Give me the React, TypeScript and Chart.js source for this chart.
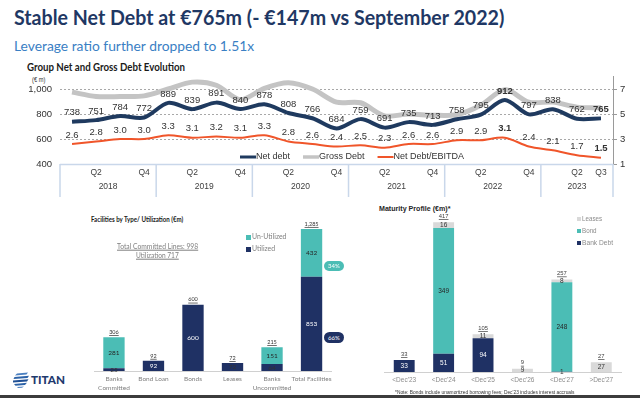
import React, { useEffect, useLayoutEffect, useRef } from "react";
import { Chart, registerables } from "chart.js";
Chart.register(...registerables);

// ---------- DATA ----------
const quarterTicks = ["", "Q2", "", "Q4", "", "Q2", "", "Q4", "", "Q2", "", "Q4", "", "Q2", "", "Q4", "", "Q2", "", "Q4", "", "Q2", "Q3"];
const quarterYears = ["2018", "2018", "2018", "2018", "2019", "2019", "2019", "2019", "2020", "2020", "2020", "2020", "2021", "2021", "2021", "2021", "2022", "2022", "2022", "2022", "2023", "2023", "2023"];
const years = ["2018", "2019", "2020", "2021", "2022", "2023"];
const netDebt = [738, 751, 784, 772, 889, 839, 891, 840, 878, 808, 766, 684, 759, 691, 735, 713, 758, 795, 912, 797, 838, 762, 765];
const grossDebt = [975, 940, 940, 945, 1000, 1055, 1030, 915, 1005, 1050, 1000, 895, 890, 785, 800, 790, 795, 870, 995, 895, 895, 855, 850];
const leverage = [2.6, 2.8, 3.0, 3.0, 3.3, 3.1, 3.2, 3.1, 3.3, 2.8, 2.6, 2.4, 2.5, 2.3, 2.6, 2.6, 2.9, 2.9, 3.1, 2.4, 2.1, 1.7, 1.5];
const boldIdx = [18, 22];
const leftTicks = [400, 600, 800, 1000];
const rightTicks = [1, 3, 5, 7];

const facilityCategories = [["Banks", "Committed"], ["Bond Loan"], ["Bonds"], ["Leases"], ["Banks", "Uncommitted"], ["Total Facilities"]];
const utilized = [25, 92, 600, 72, 64, 853];
const unUtilized = [281, 0, 0, 0, 151, 432];
const facilityTotals = ["306", "92", "600", "72", "215", "1,285"];

const maturityCategories = ["<Dec'23", "<Dec'24", "<Dec'25", "<Dec'26", "<Dec'27", ">Dec'27"];
const bankDebt = [33, 51, 94, 0, 1, 0];
const bond = [0, 349, 0, 0, 248, 0];
const leases = [0, 16, 11, 9, 8, 27];
const maturityTotals = ["33", "417", "105", "9", "257", "27"];

// ---------- STYLE ----------
const NAVY_LINE = "#1f3a5f";
const GRAY_LINE = "#c4c4c4";
const ORANGE = "#f0552a";
const NAVY = "#1f3164";
const TEAL = "#4bbdb5";
const LEASE = "#d9d9d9";
const ARIAL = "Liberation Sans";

function FitText(props: { x: number; y: number; w: number; children: any; style?: any }) {
  const ref = useRef<HTMLSpanElement>(null);
  useLayoutEffect(() => {
    const el = ref.current;
    if (!el) return;
    el.style.transform = "translateY(-50%)";
    const ow = el.offsetWidth || 1;
    el.style.transform = `translateY(-50%) scaleX(${props.w / ow})`;
  }, [props.w]);
  return (
    <span
      ref={ref}
      style={{
        position: "absolute",
        left: props.x,
        top: props.y,
        whiteSpace: "nowrap",
        transformOrigin: "left center",
        lineHeight: 1.15,
        ...props.style,
      }}
    >
      {props.children}
    </span>
  );
}

function stackLabels(cfg: { colors: string[]; totals: string[]; font: string; totalFont: string; totalGap: number; totalColor: string }) {
  return {
    id: "stackLabels",
    afterDatasetsDraw(chart: any) {
      const ctx = chart.ctx;
      ctx.save();
      ctx.textAlign = "center";
      ctx.textBaseline = "middle";
      chart.data.datasets.forEach((ds: any, di: number) => {
        const meta = chart.getDatasetMeta(di);
        meta.data.forEach((el: any, i: number) => {
          const v = ds.data[i];
          if (!v) return;
          const p = el.getProps(["x", "y", "base"], true);
          const h = Math.abs(p.base - p.y);
          ctx.font = cfg.font;
          ctx.fillStyle = h < 8 ? "#333333" : cfg.colors[di];
          ctx.fillText(String(v), p.x, (p.y + p.base) / 2);
        });
      });
      const yScale = chart.scales.y;
      const n = chart.data.labels.length;
      for (let i = 0; i < n; i++) {
        let sum = 0;
        chart.data.datasets.forEach((ds: any) => (sum += ds.data[i]));
        const x = chart.getDatasetMeta(0).data[i].x;
        const y = yScale.getPixelForValue(sum) - cfg.totalGap;
        ctx.font = cfg.totalFont;
        ctx.fillStyle = cfg.totalColor;
        ctx.fillText(cfg.totals[i], x, y);
        const w = ctx.measureText(cfg.totals[i]).width;
        ctx.fillRect(x - w / 2, y + 3, w, 0.7);
      }
      ctx.restore();
    },
  };
}

const topPlugin = {
  id: "topDecor",
  afterDatasetsDraw(chart: any) {
    const ctx = chart.ctx;
    const xs = chart.scales.x;
    const area = chart.chartArea;
    ctx.save();
    ctx.textAlign = "center";
    ctx.textBaseline = "middle";
    const netMeta = chart.getDatasetMeta(0);
    const levMeta = chart.getDatasetMeta(1);
    netMeta.data.forEach((pt: any, i: number) => {
      ctx.font = (boldIdx.includes(i) ? "bold " : "") + `9.5px "${ARIAL}"`;
      ctx.fillStyle = "#333333";
      ctx.fillText(String(netDebt[i]), pt.x, pt.y - 9);
    });
    levMeta.data.forEach((pt: any, i: number) => {
      ctx.font = (boldIdx.includes(i) ? "bold " : "") + `9.5px "${ARIAL}"`;
      ctx.fillStyle = "#333333";
      ctx.fillText(leverage[i].toFixed(1), pt.x, pt.y - 9);
    });
    const b = area.bottom;
    ctx.strokeStyle = "#c9d7ea";
    ctx.lineWidth = 1.5;
    ctx.beginPath();
    ctx.moveTo(area.left, b + 0.5);
    ctx.lineTo(area.right, b + 0.5);
    ctx.stroke();
    const n = quarterTicks.length;
    const bounds: number[] = [];
    for (let i = 0; i < n; i++) {
      if (i === 0) bounds.push(area.left);
      else if (quarterYears[i] !== quarterYears[i - 1]) bounds.push((xs.getPixelForValue(i - 1) + xs.getPixelForValue(i)) / 2);
    }
    bounds.push(area.right);
    bounds.forEach((bx) => {
      ctx.beginPath();
      ctx.moveTo(bx, b);
      ctx.lineTo(bx, b + 33);
      ctx.stroke();
    });
    ctx.fillStyle = "#404040";
    ctx.font = `8.5px "${ARIAL}"`;
    for (let i = 0; i < n; i++) {
      if (quarterTicks[i]) ctx.fillText(quarterTicks[i], xs.getPixelForValue(i), b + 9);
    }
    years.forEach((yr) => {
      const first = quarterYears.indexOf(yr);
      const last = quarterYears.lastIndexOf(yr);
      const cx = (xs.getPixelForValue(first) + xs.getPixelForValue(last)) / 2;
      ctx.fillText(yr, cx, b + 23);
    });
    const ly = b - 7;
    const items = [
      { t: "Net debt", c: NAVY_LINE, w: 3 },
      { t: "Gross Debt", c: GRAY_LINE, w: 3.5 },
      { t: "Net Debt/EBITDA", c: ORANGE, w: 2 },
    ];
    let lx = 240;
    ctx.font = `9px "${ARIAL}"`;
    ctx.textAlign = "left";
    items.forEach((it) => {
      ctx.strokeStyle = it.c;
      ctx.lineWidth = it.w;
      ctx.beginPath();
      ctx.moveTo(lx, ly);
      ctx.lineTo(lx + 16, ly);
      ctx.stroke();
      ctx.fillStyle = "#333333";
      ctx.fillText(it.t, lx + 16, ly);
      lx += 16 + ctx.measureText(it.t).width + 13;
    });
    ctx.restore();
  },
};

export default function App() {
  const topRef = useRef<HTMLCanvasElement>(null);
  const facRef = useRef<HTMLCanvasElement>(null);
  const matRef = useRef<HTMLCanvasElement>(null);

  useEffect(() => {
    const top = new Chart(topRef.current as HTMLCanvasElement, {
      type: "line",
      data: {
        labels: quarterTicks,
        datasets: [
          { label: "Net debt", data: netDebt, yAxisID: "y", borderColor: NAVY_LINE, borderWidth: 4, tension: 0.3, pointRadius: 0 },
          { label: "Net Debt/EBITDA", data: leverage, yAxisID: "y1", borderColor: ORANGE, borderWidth: 2, tension: 0.3, pointRadius: 0 },
          { label: "Gross Debt", data: grossDebt, yAxisID: "y", borderColor: GRAY_LINE, borderWidth: 5, tension: 0.3, pointRadius: 0 },
        ],
      },
      options: {
        responsive: false,
        animation: false,
        layout: { padding: { top: 16.5, bottom: 36, left: 0, right: 0 } },
        plugins: { legend: { display: false }, tooltip: { enabled: false } },
        scales: {
          x: { type: "category", display: false, offset: true },
          y: {
            position: "left",
            min: 400,
            max: 1100,
            afterFit: (s: any) => { s.width = 60; },
            afterBuildTicks: (s: any) => { s.ticks = leftTicks.map((v) => ({ value: v })); },
            ticks: { padding: 8, color: "#333333", font: { family: ARIAL, size: 9.5 } },
            grid: {
              drawTicks: false,
              lineWidth: 1,
              color: (c: any) => (c.tick && leftTicks.slice(1).includes(c.tick.value) ? "#a8a8a8" : "rgba(0,0,0,0)"),
            },
            border: { display: false, dash: [2, 2] },
          } as any,
          y1: {
            position: "right",
            min: 1,
            max: 8,
            afterFit: (s: any) => { s.width = 27; },
            afterBuildTicks: (s: any) => { s.ticks = rightTicks.map((v) => ({ value: v })); },
            ticks: { padding: 3, color: "#333333", font: { family: ARIAL, size: 9.5 } },
            grid: { drawOnChartArea: false, drawTicks: true, tickLength: 4, color: "#9a9a9a" },
            border: { display: true, color: "#9a9a9a", width: 1 },
          } as any,
        },
      },
      plugins: [topPlugin],
    } as any);

    const fac = new Chart(facRef.current as HTMLCanvasElement, {
      type: "bar",
      data: {
        labels: facilityCategories,
        datasets: [
          { label: "Utilized", data: utilized, backgroundColor: NAVY, barPercentage: 0.54, categoryPercentage: 1 },
          { label: "Un-Utilized", data: unUtilized, backgroundColor: TEAL, barPercentage: 0.54, categoryPercentage: 1 },
        ],
      },
      options: {
        responsive: false,
        animation: false,
        layout: { padding: { left: 14.2, right: 13.7, top: 5.1, bottom: 0 } },
        plugins: { legend: { display: false }, tooltip: { enabled: false } },
        scales: {
          x: {
            stacked: true,
            afterFit: (s: any) => { s.height = 27; },
            grid: { display: true, drawOnChartArea: false, drawTicks: false },
            border: { display: true, color: "#d0d0d0", width: 1 },
            ticks: { padding: 4, color: "#7f7f7f", maxRotation: 0, autoSkip: false, font: { family: "Lato", size: 6.5, lineHeight: 1.35 } },
          },
          y: { stacked: true, display: false, min: 0, max: 1320 },
        },
      },
      plugins: [
        stackLabels({
          colors: ["#ffffff", "#262626"],
          totals: facilityTotals,
          font: '6.5px "Lato"',
          totalFont: '5.5px "Lato"',
          totalGap: 5,
          totalColor: "#333333",
        }),
      ],
    } as any);

    const mat = new Chart(matRef.current as HTMLCanvasElement, {
      type: "bar",
      data: {
        labels: maturityCategories,
        datasets: [
          { label: "Bank Debt", data: bankDebt, backgroundColor: NAVY, barPercentage: 0.53, categoryPercentage: 1 },
          { label: "Bond", data: bond, backgroundColor: TEAL, barPercentage: 0.53, categoryPercentage: 1 },
          { label: "Leases", data: leases, backgroundColor: LEASE, barPercentage: 0.53, categoryPercentage: 1 },
        ],
      },
      options: {
        responsive: false,
        animation: false,
        layout: { padding: { left: 14.5, right: 19, top: 12.2, bottom: 0 } },
        plugins: { legend: { display: false }, tooltip: { enabled: false } },
        scales: {
          x: {
            stacked: true,
            afterFit: (s: any) => { s.height = 26; },
            grid: { display: true, drawOnChartArea: false, drawTicks: false },
            border: { display: true, color: "#d0d0d0", width: 1 },
            ticks: { padding: 4.5, color: "#8c8c8c", maxRotation: 0, autoSkip: false, font: { family: ARIAL, size: 6.5 } },
          },
          y: { stacked: true, display: false, min: 0, max: 430 },
        },
      },
      plugins: [
        stackLabels({
          colors: ["#ffffff", "#262626", "#333333"],
          totals: maturityTotals,
          font: `6.5px "${ARIAL}"`,
          totalFont: `5.8px "${ARIAL}"`,
          totalGap: 6,
          totalColor: "#404040",
        }),
      ],
    } as any);

    return () => {
      top.destroy();
      fac.destroy();
      mat.destroy();
    };
  }, []);

  const gray = "#7f7f7f";
  return (
    <div style={{ position: "absolute", left: 0, top: 0, width: 640, height: 398, overflow: "hidden", background: "#ffffff", fontFamily: "Lato" }}>
      <FitText x={14} y={17} w={490} style={{ fontWeight: 700, fontSize: 21, color: "#1f3864" }}>
        Stable Net Debt at €765m (- €147m vs September 2022)
      </FitText>
      <FitText x={14} y={46} w={240} style={{ fontSize: 14, color: "#3a80c4" }}>
        Leverage ratio further dropped to 1.51x
      </FitText>
      <FitText x={27} y={67} w={158} style={{ fontWeight: 700, fontSize: 10.5, color: "#1a1a1a" }}>
        Group Net and Gross Debt Evolution
      </FitText>
      <FitText x={32} y={80} w={13} style={{ fontSize: 7, color: "#333", fontFamily: ARIAL }}>
        (€ m)
      </FitText>

      <canvas ref={topRef} width={640} height={140} style={{ position: "absolute", left: 0, top: 60 }} />

      {/* Facilities */}
      <FitText x={91} y={219} w={92} style={{ fontWeight: 700, fontSize: 7, color: "#1a1a1a" }}>
        Facilities by Type/ Utilization (€m)
      </FitText>
      <canvas ref={facRef} width={265} height={178} style={{ position: "absolute", left: 80, top: 220 }} />
      <FitText x={117} y={247} w={81} style={{ fontSize: 7.5, color: gray, textDecoration: "underline" }}>
        Total Committed Lines: 998
      </FitText>
      <FitText x={136} y={256} w={43} style={{ fontSize: 7.5, color: gray, textDecoration: "underline" }}>
        Utilization 717
      </FitText>
      <div style={{ position: "absolute", left: 246, top: 235, width: 4.5, height: 4.5, background: TEAL }} />
      <FitText x={252} y={237} w={34} style={{ fontSize: 7.5, color: gray }}>
        Un-Utilized
      </FitText>
      <div style={{ position: "absolute", left: 246, top: 247, width: 4.5, height: 4.5, background: NAVY }} />
      <FitText x={252} y={249} w={23} style={{ fontSize: 7.5, color: gray }}>
        Utilized
      </FitText>
      <div style={{ position: "absolute", left: 324, top: 261, width: 20, height: 10, borderRadius: 5, background: TEAL, color: "#fff", fontSize: 6, lineHeight: "10px", textAlign: "center" }}>
        34%
      </div>
      <div style={{ position: "absolute", left: 324, top: 332, width: 20, height: 11, borderRadius: 5.5, background: NAVY, color: "#fff", fontSize: 6, lineHeight: "11px", textAlign: "center" }}>
        66%
      </div>

      {/* Maturity */}
      <FitText x={379} y={209} w={71} style={{ fontWeight: 700, fontSize: 7, color: "#262626", fontFamily: ARIAL }}>
        Maturity Profile (€m)*
      </FitText>
      <canvas ref={matRef} width={270} height={193} style={{ position: "absolute", left: 370, top: 205 }} />
      <div style={{ position: "absolute", left: 577, top: 217, width: 3.5, height: 3.5, background: LEASE }} />
      <FitText x={582} y={219} w={20} style={{ fontSize: 7.5, color: "#8c8c8c", fontFamily: ARIAL }}>
        Leases
      </FitText>
      <div style={{ position: "absolute", left: 577, top: 229, width: 3.5, height: 3.5, background: TEAL }} />
      <FitText x={582} y={231} w={15} style={{ fontSize: 7.5, color: "#8c8c8c", fontFamily: ARIAL }}>
        Bond
      </FitText>
      <div style={{ position: "absolute", left: 577, top: 241, width: 3.5, height: 3.5, background: NAVY }} />
      <FitText x={582} y={243} w={31} style={{ fontSize: 7.5, color: "#8c8c8c", fontFamily: ARIAL }}>
        Bank Debt
      </FitText>
      <FitText x={395} y={392.5} w={180} style={{ fontSize: 5, color: "#333", fontFamily: ARIAL }}>
        *Note: Bonds include unamortized borrowing fees; Dec'23 includes interest accruals
      </FitText>

      {/* Logo */}
      <svg width="18" height="16" viewBox="0 0 18 16" style={{ position: "absolute", left: 12, top: 372 }}>
        <path d="M5 1.5 L16 0.5 L14.5 2.5 L3 3.5 Z" fill="#4a7fc0" />
        <path d="M2.5 5 L17 3.8 L15.5 6 L1.5 7 Z" fill="#2d63a8" />
        <path d="M1 8.5 L16.5 7.3 L15 9.5 L1 10.5 Z" fill="#1f4f94" />
        <path d="M2 12 L15 10.8 L13 13 L3.5 13.8 Z" fill="#2d63a8" />
        <path d="M5 15 L12 14.4 L10 15.8 L6 16 Z" fill="#4a7fc0" />
      </svg>
      <FitText x={31} y={380} w={34} style={{ fontWeight: 900, fontSize: 12, color: "#1f3a6e" }}>
        TITAN
      </FitText>

      <div style={{ position: "absolute", left: 0, top: 395, width: 640, height: 3, background: "#3c3c3c" }} />
    </div>
  );
}
